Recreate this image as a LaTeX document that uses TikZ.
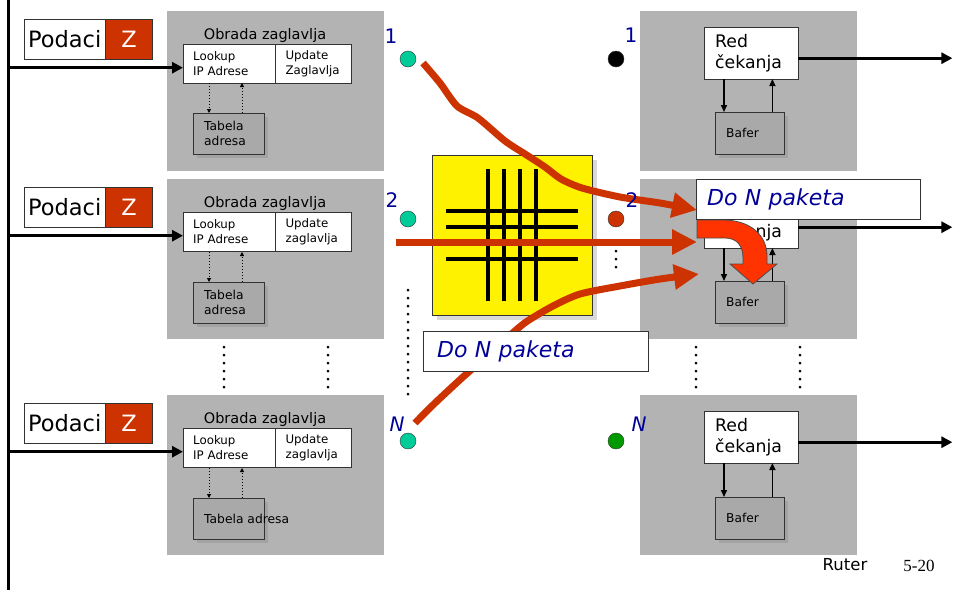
\documentclass[tikz,border=0pt]{standalone}
\usepackage{fontspec}
\setmainfont{DejaVu Sans}
\newfontfamily\pagefont{Liberation Serif}
\usetikzlibrary{arrows.meta,positioning,shadows}
\definecolor{boxgray}{HTML}{B3B3B3}
\definecolor{tabgray}{HTML}{A9A9A9}
\definecolor{pktred}{HTML}{CC3300}
\definecolor{hotred}{HTML}{FF3300}
\definecolor{portteal}{HTML}{00CC99}
\definecolor{portgreen}{HTML}{009900}
\definecolor{lblblue}{HTML}{000099}

\begin{document}
\begin{tikzpicture}[x=1pt, y=-1pt,
      gbox/.style={fill=boxgray, anchor=north west, inner sep=0pt, minimum width=217pt, minimum height=160pt},
      wbox/.style={draw=black!80, fill=white, anchor=north west, align=left, inner ysep=0pt},
      podbox/.style={wbox, align=center, inner xsep=0pt, minimum width=81pt, minimum height=40pt, font=\fontsize{22.5}{24}\selectfont},
      zbox/.style={podbox, fill=pktred, text=white, minimum width=47pt},
      hdr/.style={font=\fontsize{14.5}{16}\selectfont},
      lkbox/.style={wbox, inner xsep=10pt, text width=72pt, minimum height=39pt, font=\fontsize{11.8}{15}\selectfont},
      updbox/.style={lkbox, text width=56pt},
      tabbox/.style={wbox, fill=tabgray, inner xsep=11pt, text width=49pt, minimum height=41pt, font=\fontsize{12.3}{15}\selectfont,
                     drop shadow={opacity=0.3, shadow xshift=4pt, shadow yshift=-4pt}},
      redbox/.style={wbox, inner xsep=11pt, text width=72pt, minimum height=52pt, font=\fontsize{17.3}{21}\selectfont},
      bafbox/.style={tabbox, text width=47pt, minimum height=42pt, font=\fontsize{12.2}{13}\selectfont},
      dnpbox/.style={wbox, inner xsep=11pt, text width=202pt, minimum height=40pt, text=lblblue, font=\fontsize{22}{24}\selectfont\itshape},
      port/.style={circle, draw=black!80, inner sep=0pt, minimum size=16pt},
      plbl/.style={text=lblblue, font=\fontsize{20}{22}\selectfont},
      inarr/.style={-{Triangle[length=11pt,width=11pt]}, line width=3pt},
      smallarr/.style={-{Triangle[length=7pt,width=6pt]}, line width=1.5pt},
      dotarr/.style={-{Triangle[length=4pt,width=4pt]}, dotted, line width=1pt},
      pkt/.style={pktred, line width=7pt, -{Triangle[length=25pt,width=24pt]}},
      ellip/.style={line width=3pt, line cap=round, dash pattern=on 0pt off 8pt}]
    \useasboundingbox (0,0) rectangle (962,590);
    \coordinate (bus) at (8,0);
    \coordinate (busend) at (8,590);
    \draw[line width=3pt] (bus) -- (busend);

    % gray blocks
    \node[gbox] (gl1) at (167,11) {};
    \node[gbox] (gl2) at (167,179) {};
    \node[gbox] (gl3) at (167,395) {};
    \node[gbox] (gr1) at (640,11) {};
    \node[gbox] (gr2) at (640,179) {};
    \node[gbox] (gr3) at (640,395) {};

    % input side
    \node[podbox] (pod1) at (24,19) {Podaci};
    \node[zbox, right=0pt of pod1] (z1) {Z};
    \node[hdr] (obr1) at (265,35) {Obrada zaglavlja};
    \node[lkbox] (look1) at (183,44) {Lookup\\IP Adrese};
    \node[updbox, right=0pt of look1] (upd1) {Update\\Zaglavlja};
    \node[tabbox] (tab1) at (193,113) {Tabela\\adresa};
    \draw[inarr] (bus |- look1.west) ++(0,4) -- ([yshift=-4pt]look1.west);
    \draw[dotarr] ([xshift=16pt]tab1.north west) ++(0,-30) -- ++(0,30);
    \draw[dotarr] ([xshift=49pt]tab1.north west) -- ++(0,-30);

    \node[podbox] (pod2) at (24,187) {Podaci};
    \node[zbox, right=0pt of pod2] (z2) {Z};
    \node[hdr] (obr2) at (265,203) {Obrada zaglavlja};
    \node[lkbox] (look2) at (183,212) {Lookup\\IP Adrese};
    \node[updbox, right=0pt of look2] (upd2) {Update\\zaglavlja};
    \node[tabbox] (tab2) at (193,282) {Tabela\\adresa};
    \draw[inarr] (bus |- look2.west) ++(0,4) -- ([yshift=-4pt]look2.west);
    \draw[dotarr] ([xshift=16pt]tab2.north west) ++(0,-30) -- ++(0,30);
    \draw[dotarr] ([xshift=49pt]tab2.north west) -- ++(0,-30);

    \node[podbox] (pod3) at (24,403) {Podaci};
    \node[zbox, right=0pt of pod3] (z3) {Z};
    \node[hdr] (obr3) at (265,419) {Obrada zaglavlja};
    \node[lkbox] (look3) at (183,428) {Lookup\\IP Adrese};
    \node[updbox, right=0pt of look3] (upd3) {Update\\zaglavlja};
    \node[tabbox] (tab3) at (193,498) {};
    \node[anchor=west, inner sep=0pt, font=\fontsize{12.3}{15}\selectfont] (tabtxt3) at ([xshift=11pt]tab3.west) {Tabela adresa};
    \draw[inarr] (bus |- look3.west) ++(0,4) -- ([yshift=-4pt]look3.west);
    \draw[dotarr] ([xshift=16pt]tab3.north west) ++(0,-30) -- ++(0,30);
    \draw[dotarr] ([xshift=49pt]tab3.north west) -- ++(0,-30);

    % output side
    \node[redbox] (red1) at (704,27) {Red\\čekanja};
    \node[bafbox] (baf1) at (715,112) {Bafer};
    \node[redbox] (red2) at (704,196) {Red\\čekanja};
    \node[bafbox] (baf2) at (715,281) {Bafer};
    \node[redbox] (red3) at (704,411) {Red\\čekanja};
    \node[bafbox] (baf3) at (715,497) {Bafer};
    \draw[inarr] ([yshift=-5pt]red1.east) -- ++(154,0);
    \draw[inarr] ([yshift=-5pt]red2.east) -- ++(154,0);
    \draw[inarr] ([yshift=-5pt]red3.east) -- ++(154,0);
    \draw[smallarr] ([xshift=9pt]baf1.north west) ++(0,-33) -- ++(0,33);
    \draw[smallarr] ([xshift=-12pt]baf1.north east) -- ++(0,-33);
    \draw[smallarr] ([xshift=9pt]baf2.north west) ++(0,-33) -- ++(0,33);
    \draw[smallarr] ([xshift=-12pt]baf2.north east) -- ++(0,-33);
    \draw[smallarr] ([xshift=9pt]baf3.north west) ++(0,-34) -- ++(0,34);
    \draw[smallarr] ([xshift=-12pt]baf3.north east) -- ++(0,-34);

    % dots between rows
    \draw[ellip] (224,347) -- (224,390) (328,347) -- (328,390) (696,347) -- (696,390) (800,347) -- (800,390);
    \draw[ellip] (408,290) -- (408,396) (616,251) -- (616,268);

    % switch fabric
    \node[draw=black!80, fill=yellow, anchor=north west, minimum size=160pt,
          drop shadow={opacity=0.3, shadow xshift=5pt, shadow yshift=-5pt}] (xbar) at (432,155) {};
    \draw[line width=4pt] (488,169) -- (488,301) (504,169) -- (504,301) (520,169) -- (520,301) (536,169) -- (536,301)
          (446,211) -- (578,211) (446,227) -- (578,227) (446,243) -- (578,243) (446,259) -- (578,259);

    % packets crossing
    \coordinate (p1s) at (423,63);  \coordinate (p1e) at (697,210);
    \coordinate (p2s) at (396,242); \coordinate (p2e) at (697,242);
    \coordinate (p3s) at (415,423); \coordinate (p3e) at (699,274);
    \draw[pkt] plot[smooth, tension=0.45] coordinates {(p1s) (440,83) (457,106) (478,118) (505,141) (525,154) (545,167)
          (561,179) (582,188) (620,197) (660,203) (p1e)};
    \draw[pkt] (p2s) -- (p2e);
    \draw[pkt] plot[smooth, tension=0.45] coordinates {(p3s) (435,403) (463,377) (487,356) (507,338) (526,322) (553,306)
          (580,294) (620,286) (660,279) (p3e)};
    \node[dnpbox] (dnp1) at (696,179) {Do N paketa};
    \node[dnpbox, inner xsep=14pt, text width=197pt] (dnp2) at (423,331) {Do N paketa};
    \filldraw[fill=hotred, draw=black!70, line width=0.8pt] (697,220) -- (723,220) .. controls (750,220) and (767,235) .. (767,256)
          -- (767,264) -- (777,264) -- (753,284) -- (730,264) -- (743,264) -- (743,258)
          .. controls (743,246) and (737,238) .. (725,238) -- (697,238) -- cycle;

    % ports
    \node[port, fill=portteal] (in1) at (408,59) {};
    \node[port, fill=portteal] (in2) at (408,219) {};
    \node[port, fill=portteal] (in3) at (408,441) {};
    \node[port, fill=black] (out1) at (616,59) {};
    \node[port, fill=pktred] (out2) at (616,219) {};
    \node[port, fill=portgreen] (out3) at (616,441) {};
    \node[plbl] (in1l) at (391,36) {1};
    \node[plbl] (in2l) at (392,200) {2};
    \node[plbl, font=\fontsize{20}{22}\selectfont\itshape] (in3l) at (397,424) {N};
    \node[plbl] (out1l) at (631,35) {1};
    \node[plbl] (out2l) at (632,200) {2};
    \node[plbl, font=\fontsize{20}{22}\selectfont\itshape] (out3l) at (639,424) {N};

    \node[font=\fontsize{16.5}{18}\selectfont] (ruter) at (845,565) {Ruter};
    \node[font=\pagefont\fontsize{17}{18}\selectfont] (pg) at (919,566) {5-20};
  \end{tikzpicture}
\end{document}
